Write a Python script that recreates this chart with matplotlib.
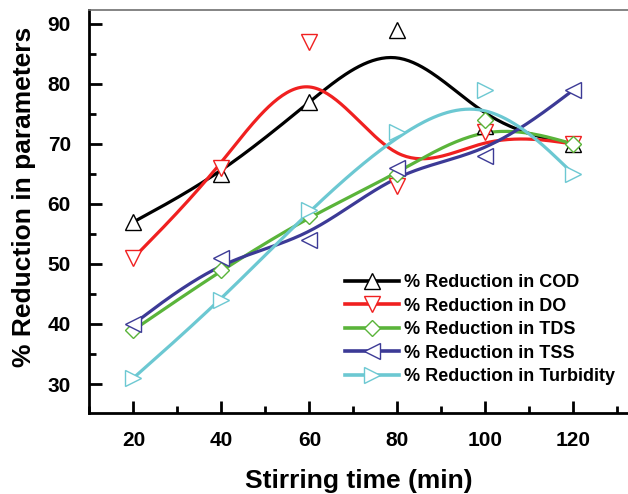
import numpy as np
import matplotlib
matplotlib.use("Agg")
import matplotlib.pyplot as plt
from matplotlib.ticker import MultipleLocator

plt.rcParams['font.family'] = ['Liberation Sans', 'DejaVu Sans']
plt.rcParams['font.weight'] = 'bold'

time_min = [20, 40, 60, 80, 100, 120]
cod = [57, 65, 77, 89, 73, 70]
do = [51, 66, 87, 63, 72, 70]
tds = [39, 49, 58, 65, 74, 70]
tss = [40, 51, 54, 66, 68, 79]
turbidity = [31, 44, 59, 72, 79, 65]

labels = ['% Reduction in COD', '% Reduction in DO', '% Reduction in TDS',
          '% Reduction in TSS', '% Reduction in Turbidity']
colors = ['#000000', '#f02020', '#5ab43a', '#3c3a96', '#6cc8d2']
markers = ['^', 'v', 'D', '<', '>']
msizes = [11, 11, 8, 11, 11]


def bspline(xs, ys, n=40):
    # uniform cubic B-spline, end points repeated so the curve starts/ends on them
    pts = np.column_stack([xs, ys]).astype(float)
    q = np.vstack([pts[:1], pts[:1], pts, pts[-1:], pts[-1:]])
    t = np.linspace(0, 1, n)
    b0 = (1 - t) ** 3 / 6
    b1 = (3 * t ** 3 - 6 * t ** 2 + 4) / 6
    b2 = (-3 * t ** 3 + 3 * t ** 2 + 3 * t + 1) / 6
    b3 = t ** 3 / 6
    segs = []
    for i in range(len(q) - 3):
        seg = (np.outer(b0, q[i]) + np.outer(b1, q[i + 1])
               + np.outer(b2, q[i + 2]) + np.outer(b3, q[i + 3]))
        segs.append(seg)
    out = np.vstack(segs)
    return out[:, 0], out[:, 1]


fig = plt.figure(figsize=(6.28, 4.94), dpi=100)
ax = fig.add_axes([0.1417, 0.164, 0.8583, 0.8158])

for ys, lab, c, mk, ms in zip([cod, do, tds, tss, turbidity], labels, colors, markers, msizes):
    sx, sy = bspline(time_min, ys)
    ax.plot(sx, sy, color=c, lw=2.3, zorder=2)
    ax.plot(time_min, ys, linestyle='none', marker=mk, ms=ms, mfc='white',
            mec=c, mew=1.0, zorder=3)
    ax.plot([], [], color=c, lw=2.6, marker=mk, ms=ms, mfc='white', mec=c,
            mew=1.0, label=lab)

ax.set_xlim(9.9, 132.4)
ax.set_ylim(25.17, 92.33)
ax.xaxis.set_major_locator(MultipleLocator(20))
ax.xaxis.set_minor_locator(MultipleLocator(10))
ax.yaxis.set_major_locator(MultipleLocator(10))
ax.yaxis.set_minor_locator(MultipleLocator(5))
ax.tick_params(which='major', direction='in', length=9, width=2, labelsize=15, pad=13)
ax.tick_params(which='minor', direction='in', length=5, width=2)
ax.tick_params(top=False, right=False)

for s in ['left', 'bottom']:
    ax.spines[s].set_linewidth(2)
ax.spines['top'].set_linewidth(1.2)
ax.spines['top'].set_color('#707070')
ax.spines['right'].set_visible(False)

ax.set_xlabel('Stirring time (min)', fontsize=19, fontweight='bold', labelpad=14)
ax.set_ylabel('% Reduction in parameters', fontsize=19, fontweight='bold')
ax.yaxis.set_label_coords(-0.098, 0.536)

leg = ax.legend(loc='lower right', bbox_to_anchor=(1.0, 0.038), frameon=False,
                fontsize=13, handlelength=3.0, handletextpad=0.3, labelspacing=0.36,
                borderaxespad=0.3)
for t in leg.get_texts():
    t.set_fontweight('bold')

fig.savefig('out.png', dpi=100)
